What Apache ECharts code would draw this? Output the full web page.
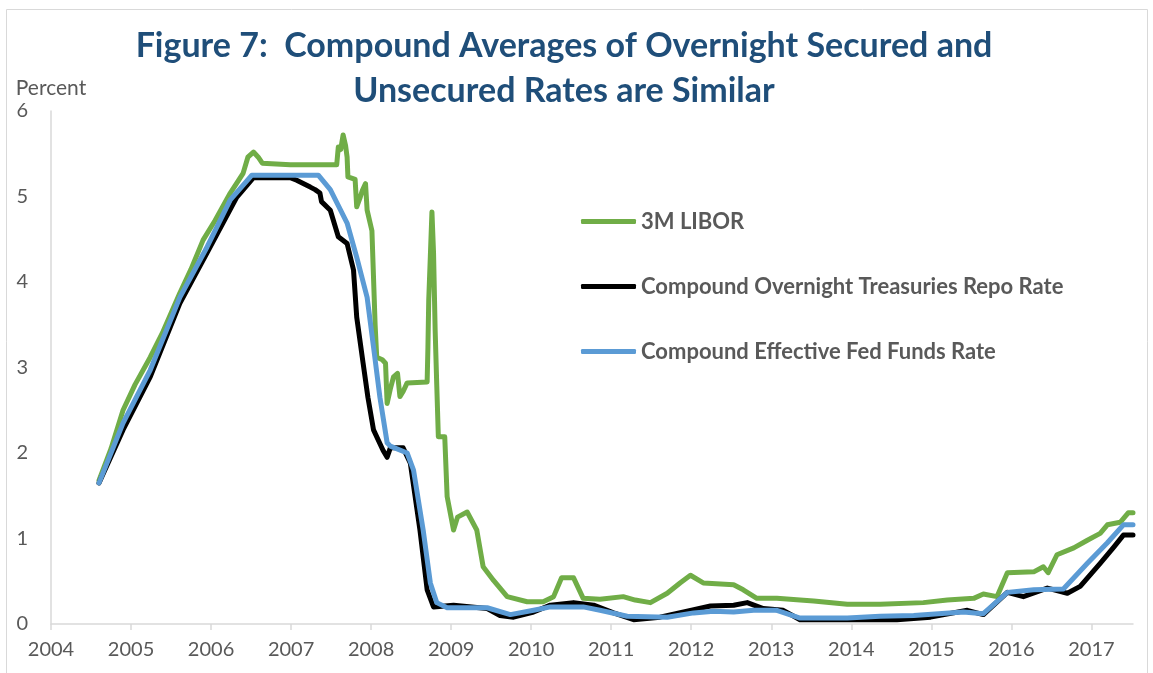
<!DOCTYPE html>
<html><head><meta charset="utf-8">
<script src="https://cdn.jsdelivr.net/npm/echarts@6/dist/echarts.min.js"></script>
<style>html,body{margin:0;padding:0;background:#fff}#c{width:1153px;height:673px}</style>
</head><body><div id="c"></div>
<script>
const titleLines = ['Figure 7:  Compound Averages of Overnight Secured and', 'Unsecured Rates are Similar'];
const yAxisName = 'Percent';
const xTicks = [2004,2005,2006,2007,2008,2009,2010,2011,2012,2013,2014,2015,2016,2017];
const yTicks = [0,1,2,3,4,5,6];
const seriesNames = ['3M LIBOR', 'Compound Overnight Treasuries Repo Rate', 'Compound Effective Fed Funds Rate'];

const liborYears = [2004.60,2004.75,2004.90,2005.05,2005.24,2005.40,2005.61,2005.75,2005.90,2006.05,2006.24,2006.40,2006.46,2006.53,2006.59,2006.64,2006.99,2007.30,2007.57,2007.59,2007.62,2007.65,2007.68,2007.70,2007.71,2007.80,2007.82,2007.86,2007.89,2007.93,2007.95,2008.01,2008.05,2008.07,2008.14,2008.18,2008.20,2008.24,2008.28,2008.33,2008.36,2008.40,2008.45,2008.70,2008.71,2008.72,2008.74,2008.76,2008.78,2008.80,2008.82,2008.84,2008.92,2008.95,2009.03,2009.08,2009.20,2009.32,2009.40,2009.53,2009.70,2009.95,2010.15,2010.28,2010.38,2010.53,2010.65,2010.86,2011.15,2011.30,2011.49,2011.70,2011.86,2011.99,2012.15,2012.53,2012.65,2012.82,2013.07,2013.36,2013.53,2013.95,2014.36,2014.90,2015.20,2015.53,2015.65,2015.82,2015.95,2016.28,2016.40,2016.46,2016.57,2016.78,2016.95,2017.11,2017.20,2017.36,2017.46,2017.52];
const liborValues = [1.68,2.05,2.50,2.80,3.12,3.42,3.87,4.15,4.49,4.72,5.04,5.27,5.46,5.52,5.46,5.39,5.37,5.37,5.37,5.58,5.55,5.72,5.60,5.46,5.23,5.20,4.88,4.98,5.07,5.15,4.84,4.60,3.50,3.12,3.09,3.05,2.58,2.75,2.89,2.93,2.66,2.72,2.82,2.83,3.24,3.79,4.30,4.82,4.34,3.44,2.80,2.19,2.19,1.49,1.10,1.25,1.31,1.10,0.67,0.51,0.32,0.26,0.26,0.32,0.54,0.54,0.30,0.29,0.32,0.28,0.25,0.36,0.48,0.57,0.48,0.46,0.40,0.30,0.30,0.28,0.27,0.23,0.23,0.25,0.28,0.30,0.35,0.32,0.60,0.61,0.67,0.60,0.81,0.89,0.98,1.06,1.16,1.19,1.30,1.30];

const repoYears = [2004.60,2004.90,2005.24,2005.61,2005.95,2006.32,2006.53,2006.99,2007.07,2007.24,2007.30,2007.36,2007.38,2007.49,2007.59,2007.70,2007.78,2007.82,2007.90,2007.96,2008.03,2008.15,2008.20,2008.24,2008.40,2008.49,2008.61,2008.70,2008.78,2009.03,2009.45,2009.61,2009.78,2010.03,2010.24,2010.53,2010.78,2011.03,2011.28,2011.61,2011.99,2012.24,2012.53,2012.70,2012.90,2013.15,2013.36,2013.95,2014.57,2014.99,2015.45,2015.65,2015.95,2016.15,2016.45,2016.70,2016.86,2017.11,2017.28,2017.40,2017.52];
const repoValues = [1.65,2.27,2.89,3.75,4.34,4.99,5.22,5.22,5.19,5.11,5.08,5.04,4.94,4.84,4.53,4.45,4.14,3.59,3.05,2.65,2.27,2.03,1.95,2.06,2.06,1.88,1.10,0.40,0.20,0.22,0.18,0.10,0.08,0.14,0.22,0.25,0.22,0.13,0.05,0.08,0.16,0.21,0.22,0.25,0.18,0.16,0.05,0.05,0.05,0.08,0.16,0.11,0.37,0.32,0.42,0.36,0.44,0.71,0.90,1.04,1.04];

const effrYears = [2004.60,2004.90,2005.24,2005.61,2005.95,2006.24,2006.51,2007.34,2007.49,2007.70,2007.82,2007.95,2008.03,2008.11,2008.20,2008.24,2008.45,2008.53,2008.65,2008.74,2008.82,2008.95,2009.45,2009.74,2010.03,2010.24,2010.65,2010.86,2011.20,2011.70,2012.03,2012.28,2012.53,2012.78,2013.07,2013.36,2013.95,2014.36,2014.78,2015.40,2015.65,2015.95,2016.28,2016.65,2016.95,2017.20,2017.40,2017.52];
const effrValues = [1.65,2.35,2.97,3.82,4.41,4.96,5.25,5.25,5.08,4.69,4.29,3.82,3.24,2.65,2.12,2.08,2.00,1.80,1.10,0.48,0.25,0.19,0.19,0.11,0.16,0.20,0.20,0.16,0.09,0.08,0.13,0.15,0.14,0.16,0.16,0.07,0.07,0.09,0.10,0.14,0.12,0.37,0.40,0.41,0.71,0.95,1.16,1.16];

const zip = (xs, ys) => xs.map((x, i) => [x, ys[i]]);
const colors = ['#70AD47', '#000000', '#5B9BD5'];
const font = 'Lato, "Open Sans", sans-serif';

const chart = echarts.init(document.getElementById('c'), null, {renderer: 'canvas'});
const mkSeries = (name, data, color) => ({
  name, type: 'line', data, showSymbol: false, symbol: 'none',
  lineStyle: {width: 5, color, cap: 'round', join: 'round'},
  itemStyle: {color}, animation: false
});
chart.setOption({
  animation: false,
  graphic: [
    {type: 'rect', shape: {x: 6.5, y: 9.5, width: 1141, height: 680}, style: {fill: 'none', stroke: '#D9D9D9', lineWidth: 1}, silent: true},
    {type: 'text', x: 564, y: 24, style: {text: titleLines.join('\n'), font: 'bold 34px ' + font, fill: '#1F4E79', align: 'center', lineHeight: 45}}
  ],
  grid: {left: 51, right: 20, top: 111, bottom: 49, containLabel: false},
  legend: {
    orient: 'vertical', left: 576, top: 205, itemGap: 42, itemWidth: 55, itemHeight: 5,
    icon: 'roundRect',
    data: seriesNames,
    textStyle: {fontFamily: font, fontWeight: 'bold', fontSize: 22, color: '#595959', lineHeight: 23},
    selectedMode: false
  },
  xAxis: {
    type: 'value', min: 2004, max: 2017.52, interval: 1,
    splitLine: {show: false},
    axisLine: {show: true, lineStyle: {color: '#D9D9D9', width: 1.5}},
    axisTick: {show: true, length: 6, lineStyle: {color: '#D9D9D9', width: 1.5}, customValues: xTicks},
    axisLabel: {customValues: xTicks, formatter: v => String(Math.round(v)), fontFamily: font, fontSize: 20, color: '#595959', margin: 16}
  },
  yAxis: {
    type: 'value', min: 0, max: 6, interval: 1,
    name: yAxisName, nameLocation: 'end', nameGap: 12,
    nameTextStyle: {fontFamily: font, fontSize: 21, color: '#595959', align: 'center', padding: [0, 0, 0, 0]},
    splitLine: {show: false},
    axisLine: {show: true, lineStyle: {color: '#D9D9D9', width: 1.5}},
    axisTick: {show: false},
    axisLabel: {fontFamily: font, fontSize: 20, color: '#595959', margin: 23}
  },
  series: [
    mkSeries(seriesNames[0], zip(liborYears, liborValues), colors[0]),
    mkSeries(seriesNames[1], zip(repoYears, repoValues), colors[1]),
    mkSeries(seriesNames[2], zip(effrYears, effrValues), colors[2])
  ]
});
</script></body></html>
